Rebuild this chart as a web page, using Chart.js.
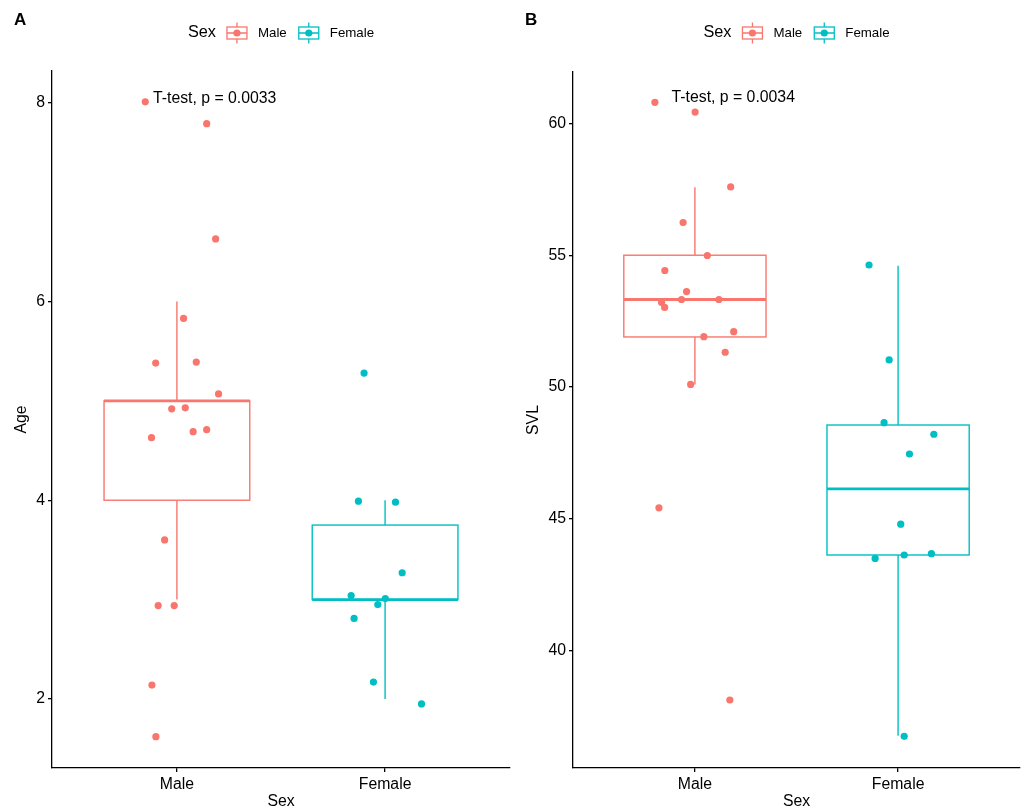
<!DOCTYPE html>
<html>
<head>
<meta charset="utf-8">
<script src="https://cdn.jsdelivr.net/npm/chart.js@4/dist/chart.umd.min.js"></script>
<style>
  html, body { margin: 0; padding: 0; background: #fff; }
  #wrap { position: relative; width: 1022px; height: 812px; }
  .panel { position: absolute; top: 0; width: 511px; height: 812px; }
</style>
</head>
<body>
<div id="wrap">
  <div class="panel" style="left:0"><canvas id="chartA" width="511" height="812"></canvas></div>
  <div class="panel" style="left:511px"><canvas id="chartB" width="511" height="812"></canvas></div>
</div>
<script>
// categories on the x axis (ggplot discrete positions 1 and 2)
const categories = ['Male', 'Female'];
const catPos = [1, 2];
const colMale = '#F8766D';
const colFemale = '#00BFC4';

// Panel A: Age
const ageMale = [8.01, 7.79, 6.63, 5.83, 5.38, 5.39, 5.07, 4.92, 4.93, 4.63, 4.69, 4.71, 3.60, 2.94, 2.94, 2.14, 1.62];
const ageMaleJitter = [-0.152, 0.143, 0.186, 0.032, -0.102, 0.093, 0.200, -0.025, 0.040, -0.122, 0.078, 0.143, -0.059, -0.090, -0.013, -0.120, -0.101];
const ageFemale = [5.28, 3.99, 3.98, 3.27, 3.04, 3.01, 2.95, 2.81, 2.17, 1.95];
const ageFemaleJitter = [-0.101, -0.128, 0.050, 0.082, -0.163, 0.001, -0.035, -0.149, -0.056, 0.175];
// [lower whisker, q1, median, q3, upper whisker]
const ageMaleBox = [3, 4, 5, 5, 6];
const ageFemaleBox = [2, 3, 3, 3.75, 4];
const ageTicks = [2, 4, 6, 8];
const ageRange = [1.305, 8.32];
const ageLabel = 'T-test, p = 0.0033';
const ageLabelAt = [0.885, 8.04];

// Panel B: SVL
const svlMale = [60.80, 60.43, 57.59, 56.24, 54.99, 54.42, 53.62, 53.21, 53.32, 53.32, 53.02, 51.91, 52.10, 51.32, 50.10, 45.42, 38.13];
const svlMaleJitter = [-0.197, 0.001, 0.176, -0.058, 0.061, -0.148, -0.041, -0.164, -0.066, 0.118, -0.149, 0.044, 0.191, 0.149, -0.021, -0.177, 0.172];
const svlFemale = [54.63, 51.03, 48.65, 48.21, 47.46, 44.80, 43.50, 43.63, 43.68, 36.75];
const svlFemaleJitter = [-0.143, -0.044, -0.069, 0.176, 0.056, 0.013, -0.113, 0.030, 0.164, 0.030];
const svlMaleBox = [50.1, 51.9, 53.32, 55.0, 57.58];
const svlFemaleBox = [36.77, 43.63, 46.14, 48.56, 54.6];
const svlTicks = [40, 45, 50, 55, 60];
const svlRange = [35.55, 61.95];
const svlLabel = 'T-test, p = 0.0034';
const svlLabelAt = [0.885, 60.97];

const FONT = '"Liberation Sans", Arial, Helvetica, sans-serif';
const BOX_HALF = 0.35;

function pts(jit, vals, pos) {
  return vals.map((v, i) => ({ x: pos + jit[i], y: v }));
}

function drawGlyph(ctx, x, cy, color) {
  ctx.save();
  ctx.strokeStyle = color;
  ctx.fillStyle = color;
  ctx.lineWidth = 1.3;
  ctx.beginPath();
  ctx.moveTo(x + 10, cy - 10.5); ctx.lineTo(x + 10, cy - 6);
  ctx.moveTo(x + 10, cy + 6); ctx.lineTo(x + 10, cy + 10.5);
  ctx.moveTo(x, cy); ctx.lineTo(x + 20, cy);
  ctx.stroke();
  ctx.strokeRect(x, cy - 6, 20, 12);
  ctx.beginPath(); ctx.arc(x + 10, cy, 3.6, 0, Math.PI * 2); ctx.fill();
  ctx.restore();
}

function makeChart(id, o) {
  const decor = {
    id: 'decor_' + id,
    beforeDatasetsDraw(chart) {
      const { ctx, scales: { x, y } } = chart;
      o.boxes.forEach(b => {
        const xl = x.getPixelForValue(b.pos - BOX_HALF);
        const xr = x.getPixelForValue(b.pos + BOX_HALF);
        const xc = x.getPixelForValue(b.pos);
        const [lo, q1, med, q3, hi] = b.stats.map(v => y.getPixelForValue(v));
        ctx.save();
        ctx.strokeStyle = b.color;
        ctx.lineWidth = 1.4;
        ctx.beginPath();
        ctx.moveTo(xc, hi); ctx.lineTo(xc, q3);
        ctx.moveTo(xc, q1); ctx.lineTo(xc, lo);
        ctx.stroke();
        ctx.strokeRect(xl, q3, xr - xl, q1 - q3);
        ctx.lineWidth = 2.8;
        ctx.beginPath(); ctx.moveTo(xl, med); ctx.lineTo(xr, med); ctx.stroke();
        ctx.restore();
      });
    },
    afterDraw(chart) {
      const { ctx, chartArea, scales: { x, y } } = chart;
      ctx.save();
      // panel letter
      ctx.fillStyle = '#000';
      ctx.font = 'bold 17px ' + FONT;
      ctx.textBaseline = 'alphabetic';
      ctx.textAlign = 'left';
      ctx.fillText(o.letter, 14, 25);
      // stat label
      ctx.font = '15.8px ' + FONT;
      ctx.textBaseline = 'middle';
      ctx.fillText(o.label, x.getPixelForValue(o.labelAt[0]), y.getPixelForValue(o.labelAt[1]));
      // legend
      const cy = 33;
      ctx.font = '16.3px ' + FONT;
      const wT = ctx.measureText('Sex').width;
      ctx.font = '13.3px ' + FONT;
      const wM = ctx.measureText(categories[0]).width;
      const wF = ctx.measureText(categories[1]).width;
      const total = wT + 11 + 20 + 11 + wM + 12 + 20 + 11 + wF;
      let lx = (chartArea.left + chartArea.right) / 2 - total / 2;
      ctx.font = '16.3px ' + FONT;
      ctx.fillText('Sex', lx, cy);
      lx += wT + 11;
      drawGlyph(ctx, lx, cy, colMale);
      lx += 31;
      ctx.font = '13.3px ' + FONT;
      ctx.fillText(categories[0], lx, cy);
      lx += wM + 12;
      drawGlyph(ctx, lx, cy, colFemale);
      lx += 31;
      ctx.fillText(categories[1], lx, cy);
      ctx.restore();
    }
  };

  const axisCommon = {
    type: 'linear',
    border: { display: true, color: '#000', width: 1.3 },
    grid: { display: true, drawOnChartArea: false, drawTicks: true, tickLength: 4, color: '#000', lineWidth: 1.3 },
    ticks: { color: '#000', font: { family: FONT, size: 15.8 }, padding: 3 }
  };

  return new Chart(document.getElementById(id), {
    type: 'scatter',
    data: {
      datasets: [
        { data: pts(o.maleJit, o.male, catPos[0]), backgroundColor: colMale, borderWidth: 0, pointRadius: 3.6 },
        { data: pts(o.femaleJit, o.female, catPos[1]), backgroundColor: colFemale, borderWidth: 0, pointRadius: 3.6 }
      ]
    },
    options: {
      responsive: false,
      animation: false,
      layout: { autoPadding: false, padding: { top: o.top, right: o.right, left: 0, bottom: 0 } },
      plugins: { legend: { display: false }, tooltip: { enabled: false } },
      scales: {
        x: {
          ...axisCommon,
          min: 0.4, max: 2.6,
          afterBuildTicks: s => { s.ticks = catPos.map(v => ({ value: v })); },
          afterFit: s => { s.height = 44; },
          ticks: { ...axisCommon.ticks, callback: v => categories[catPos.indexOf(v)] },
          title: { display: true, text: 'Sex', color: '#000', font: { family: FONT, size: 15.8 }, padding: { top: 0, bottom: 1 } }
        },
        y: {
          ...axisCommon,
          min: o.range[0], max: o.range[1],
          afterBuildTicks: s => { s.ticks = o.ticks.map(v => ({ value: v })); },
          afterFit: s => { s.width = o.yWidth; },
          title: { display: true, text: o.yTitle, color: '#000', font: { family: FONT, size: 15.8 }, padding: { top: o.yTitlePad, bottom: 0 } }
        }
      }
    },
    plugins: [decor]
  });
}

makeChart('chartA', {
  letter: 'A', yTitle: 'Age', top: 71, right: 1, yWidth: 52, yTitlePad: 12.5,
  male: ageMale, maleJit: ageMaleJitter, female: ageFemale, femaleJit: ageFemaleJitter,
  boxes: [{ pos: catPos[0], stats: ageMaleBox, color: colMale }, { pos: catPos[1], stats: ageFemaleBox, color: colFemale }],
  ticks: ageTicks, range: ageRange, label: ageLabel, labelAt: ageLabelAt
});

makeChart('chartB', {
  letter: 'B', yTitle: 'SVL', top: 72, right: 2, yWidth: 62, yTitlePad: 13.5,
  male: svlMale, maleJit: svlMaleJitter, female: svlFemale, femaleJit: svlFemaleJitter,
  boxes: [{ pos: catPos[0], stats: svlMaleBox, color: colMale }, { pos: catPos[1], stats: svlFemaleBox, color: colFemale }],
  ticks: svlTicks, range: svlRange, label: svlLabel, labelAt: svlLabelAt
});
</script>
</body>
</html>
